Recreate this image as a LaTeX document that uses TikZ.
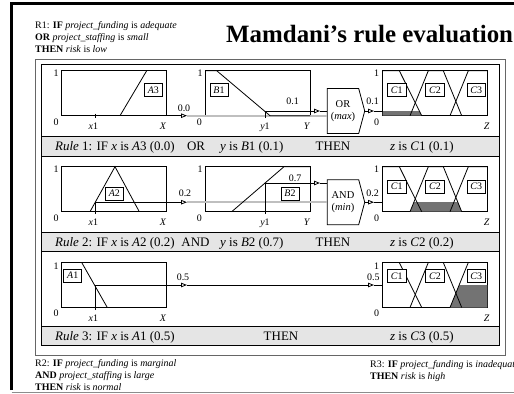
\documentclass[tikz,border=0pt]{standalone}
\usepackage{fontspec}
\setmainfont{Liberation Serif}
\usetikzlibrary{arrows.meta,shapes.symbols}

\begin{document}
\begin{tikzpicture}[x=1bp, y=-1bp]
    \tikzstyle{chart} = [draw, line width=0.8bp]
    \tikzstyle{mf} = [line width=0.8bp]
    \tikzstyle{mfname} = [draw, fill=white, line width=0.6bp, inner xsep=3.5bp, inner ysep=2.5bp, text height=7bp, text depth=1bp, font=\fontsize{10}{12}\selectfont]
    \tikzstyle{axis} = [inner sep=0pt, text height=7bp, text depth=0bp, font=\fontsize{10}{12}\selectfont]
    \tikzstyle{band} = [draw, fill=black!10, line width=0.8bp]
    \tikzstyle{bandtext} = [inner sep=0pt, anchor=base west, font=\fontsize{13}{15}\selectfont]
    \tikzstyle{op} = [signal, signal to=east, signal pointer angle=150, draw, fill=white, line width=0.8bp, minimum width=37.4bp, minimum height=45bp, inner sep=0pt, align=center, font=\fontsize{10.5}{12.3}\selectfont]
    \tikzstyle{cut} = [line width=0.8bp, -{Triangle[open, length=6bp, width=4.5bp]}]
    \tikzstyle{trace} = [line width=2bp, black!25]
    \tikzstyle{clip} = [fill=black!55]
    \tikzstyle{note} = [align=left, inner sep=0pt, anchor=north west, font=\fontsize{10}{12.2}\selectfont]

    \useasboundingbox (0,0) rectangle (514,393);

    % slide frame
    \draw[line width=3bp] (11.5,390) -- (11.5,3) -- (514,3);
    \draw[black!45, line width=0.8bp] (11.5,392) -- (514,392);

    \node[anchor=base west, inner sep=0pt, font=\fontsize{25}{30}\selectfont\bfseries] (title) at (226,42.7) {Mamdani’s rule evaluation};
    \node[note] (rule1) at (35,21) {R1: \textbf{IF} \textit{project\_funding} is \textit{adequate}\\\textbf{OR} \textit{project\_staffing} is \textit{small}\\\textbf{THEN} \textit{risk} is \textit{low}};
    \node[note] (rule2) at (35,359) {R2: \textbf{IF} \textit{project\_funding} is \textit{marginal}\\\textbf{AND} \textit{project\_staffing} is \textit{large}\\\textbf{THEN} \textit{risk} is \textit{normal}};
    \node[note] (rule3) at (370,360.5) {R3: \textbf{IF} \textit{project\_funding} is \textit{inadequate}\\\textbf{THEN} \textit{risk} is \textit{high}};

    % frames and rule bands
    \draw[black!60, line width=0.8bp] (35.7,59.3) rectangle (505,355);
    \draw[line width=1.3bp] (41.7,64.3) rectangle (499.3,345);
    \draw[band] (41.7,136.7) rectangle (499.3,156);
    \draw[band] (41.7,232.7) rectangle (499.3,251.7);
    \draw[band] (41.7,326.7) rectangle (499.3,345);

    \node[bandtext] (if1) at (55,150.7) {\textit{Rule} 1: IF \textit{x} is \textit{A}3 (0.0)};
    \node[bandtext, anchor=base] (or1) at (196,150.7) {OR};
    \node[bandtext] (y1text) at (220,150.7) {\textit{y} is \textit{B}1 (0.1)};
    \node[bandtext, anchor=base] (then1) at (333,150.7) {THEN};
    \node[bandtext] (z1text) at (390,150.7) {\textit{z} is \textit{C}1 (0.1)};

    \node[bandtext] (if2) at (55,246.7) {\textit{Rule} 2: IF \textit{x} is \textit{A}2 (0.2)};
    \node[bandtext, anchor=base] (and2) at (195.5,246.7) {AND};
    \node[bandtext] (y2text) at (220,246.7) {\textit{y} is \textit{B}2 (0.7)};
    \node[bandtext, anchor=base] (then2) at (333,246.7) {THEN};
    \node[bandtext] (z2text) at (390,246.7) {\textit{z} is \textit{C}2 (0.2)};

    \node[bandtext] (if3) at (55,340.7) {\textit{Rule} 3: IF \textit{x} is \textit{A}1 (0.5)};
    \node[bandtext, anchor=base] (then3) at (281,340.7) {THEN};
    \node[bandtext] (z3text) at (390,340.7) {\textit{z} is \textit{C}3 (0.5)};

    % Rule 1
    \begin{scope}[shift={(0,70.7)}]
        \draw[chart] (61,0) rectangle (166,45);
        \draw[chart] (205,0) rectangle (310,45);
        \draw[chart] (382.7,0) rectangle (487.3,45);
        \node[op] (ormax) at (343,40.3) {OR\\(\textit{max})};
        \coordinate (x1a) at (95,45);
        \coordinate (tipa) at (187,45);
        \coordinate (y1b) at (265,40.3);
        \coordinate (tipb) at (320,40.3);
        \coordinate (tipc) at (374,40.3);
        \coordinate (inc) at (382.7,40.3);
        \draw[trace] (tipa) -- (ormax.west |- tipa);
        \fill[clip] (382.7,45) -- (382.7,40.3) -- (419.5,40.3) -- (421.7,45) -- cycle;
        \draw[mf] (120,45) -- (146.7,0);
        \draw[mf] (205,0) -- (216.7,0) -- (270,45) -- (310,45);
        \draw[mf] (382.7,0) -- (399.3,0) -- (421.7,45);
        \draw[mf] (410,45) -- (428.3,0) -- (443.3,0) -- (461.7,45);
        \draw[mf] (450,45) -- (468.3,0) -- (487.3,0);
        \draw[mf] (95,43) -- (95,47.5);
        \draw[mf] (265,47.5) -- (y1b);
        \draw[cut] (x1a) -- (tipa);
        \draw[cut] (y1b) -- (tipb);
        \draw[mf] (tipb) -- (ormax.west |- tipb);
        \draw[cut] (ormax.east) -- (tipc);
        \draw[mf] (tipc) -- (inc);
        \node[mfname] (a3) at (153.3,19.3) {\textit{A}3};
        \node[mfname] (b1) at (219,19.3) {\textit{B}1};
        \node[mfname] (c1a) at (396.7,19.3) {\textit{C}1};
        \node[mfname] (c2a) at (435,19.3) {\textit{C}2};
        \node[mfname] (c3a) at (476.3,19.3) {\textit{C}3};
        \node[axis] (onea) at (56,2.5) {1};
        \node[axis] (zeroa) at (56,51) {0};
        \node[axis] (x1la) at (93.3,55.3) {\textit{x}1};
        \node[axis] (xla) at (163,55.3) {\textit{X}};
        \node[axis] (oneb) at (200,2.5) {1};
        \node[axis] (zerob) at (199.3,51) {0};
        \node[axis] (y1lb) at (265,55.3) {\textit{y}1};
        \node[axis] (ylb) at (307,55.3) {\textit{Y}};
        \node[axis] (onec) at (376.7,2.5) {1};
        \node[axis] (zeroc) at (376.7,51) {0};
        \node[axis] (zlc) at (486.7,55.3) {\textit{Z}};
        \node[axis] (cuta) at (184,37.6) {0.0};
        \node[axis] (cutb) at (292.7,30.3) {0.1};
        \node[axis] (cutc) at (372.7,30.3) {0.1};
    \end{scope}

    % Rule 2
    \begin{scope}[shift={(0,166.7)}]
        \draw[chart] (61,0) rectangle (166,45);
        \draw[chart] (205,0) rectangle (310,45);
        \draw[chart] (382.7,0) rectangle (487.3,45);
        \node[op] (andmin) at (343,35.5) {AND\\(\textit{min})};
        \coordinate (x1d) at (95,35.5);
        \coordinate (tipd) at (187,35.5);
        \coordinate (y1e) at (265,16.3);
        \coordinate (tipe) at (320,16.3);
        \coordinate (tipf) at (374,35.5);
        \coordinate (inf) at (382.7,35.5);
        \draw[trace] (tipd) -- (andmin.west |- tipd);
        \fill[clip] (410,45) -- (413.9,35.5) -- (457.8,35.5) -- (461.7,45) -- cycle;
        \draw[mf] (90,45) -- (115,0) -- (139.3,45);
        \draw[mf] (231.7,45) -- (284,0) -- (310,0);
        \draw[mf] (382.7,0) -- (399.3,0) -- (421.7,45);
        \draw[mf] (410,45) -- (428.3,0) -- (443.3,0) -- (461.7,45);
        \draw[mf] (450,45) -- (468.3,0) -- (487.3,0);
        \draw[mf] (95,47.5) -- (x1d);
        \draw[mf] (265,47.5) -- (y1e);
        \draw[cut] (x1d) -- (tipd);
        \draw[cut] (y1e) -- (tipe);
        \draw[mf] (tipe) -- (andmin.west |- tipe);
        \draw[cut] (andmin.east) -- (tipf);
        \draw[mf] (tipf) -- (inf);
        \node[mfname] (a2) at (114.3,26.6) {\textit{A}2};
        \node[mfname] (b2) at (290,26.6) {\textit{B}2};
        \node[mfname] (c1b) at (396.7,20) {\textit{C}1};
        \node[mfname] (c2b) at (435,20) {\textit{C}2};
        \node[mfname] (c3b) at (476.3,20) {\textit{C}3};
        \node[axis] (oned) at (56,2.5) {1};
        \node[axis] (zerod) at (56,51) {0};
        \node[axis] (x1ld) at (93.3,55.3) {\textit{x}1};
        \node[axis] (xld) at (163,55.3) {\textit{X}};
        \node[axis] (onee) at (200,2.5) {1};
        \node[axis] (zeroe) at (199.3,51) {0};
        \node[axis] (y1le) at (265,55.3) {\textit{y}1};
        \node[axis] (yle) at (307,55.3) {\textit{Y}};
        \node[axis] (onef) at (376.7,2.5) {1};
        \node[axis] (zerof) at (376.7,51) {0};
        \node[axis] (zlf) at (486.7,55.3) {\textit{Z}};
        \node[axis] (cutd) at (185,26) {0.2};
        \node[axis] (cute) at (295,11) {0.7};
        \node[axis] (cutf) at (372.7,26) {0.2};
    \end{scope}

    % Rule 3
    \begin{scope}[shift={(0,262.5)}]
        \draw[chart] (61,0) rectangle (166,45);
        \draw[chart] (382.7,0) rectangle (487.3,45);
        \coordinate (x1g) at (95,22.5);
        \coordinate (tipg) at (187,22.5);
        \coordinate (tiph) at (374,22.5);
        \coordinate (inh) at (382.7,22.5);
        \fill[clip] (450,45) -- (459.2,22.5) -- (487.3,22.5) -- (487.3,45) -- cycle;
        \draw[mf] (61,0) -- (81.7,0) -- (107.3,45);
        \draw[mf] (382.7,0) -- (399.3,0) -- (421.7,45);
        \draw[mf] (410,45) -- (428.3,0) -- (443.3,0) -- (461.7,45);
        \draw[mf] (450,45) -- (468.3,0) -- (487.3,0);
        \draw[mf] (95,47.5) -- (x1g);
        \draw[cut] (x1g) -- (tipg);
        \draw[cut] (tipg) -- (tiph);
        \draw[mf] (tiph) -- (inh);
        \node[mfname] (a1) at (72.7,12.8) {\textit{A}1};
        \node[mfname] (c1c) at (396.7,13.5) {\textit{C}1};
        \node[mfname] (c2c) at (435,13.5) {\textit{C}2};
        \node[mfname] (c3c) at (476.3,13.5) {\textit{C}3};
        \node[axis] (oneg) at (56,3) {1};
        \node[axis] (zerog) at (56,50.8) {0};
        \node[axis] (x1lg) at (93.3,55.2) {\textit{x}1};
        \node[axis] (xlg) at (163,55.2) {\textit{X}};
        \node[axis] (oneh) at (376.7,3.2) {1};
        \node[axis] (zeroh) at (376.7,50.8) {0};
        \node[axis] (zlh) at (486.7,55.2) {\textit{Z}};
        \node[axis] (cutg) at (183,14.2) {0.5};
        \node[axis] (cuth) at (373.3,14.2) {0.5};
    \end{scope}
\end{tikzpicture}
\end{document}
